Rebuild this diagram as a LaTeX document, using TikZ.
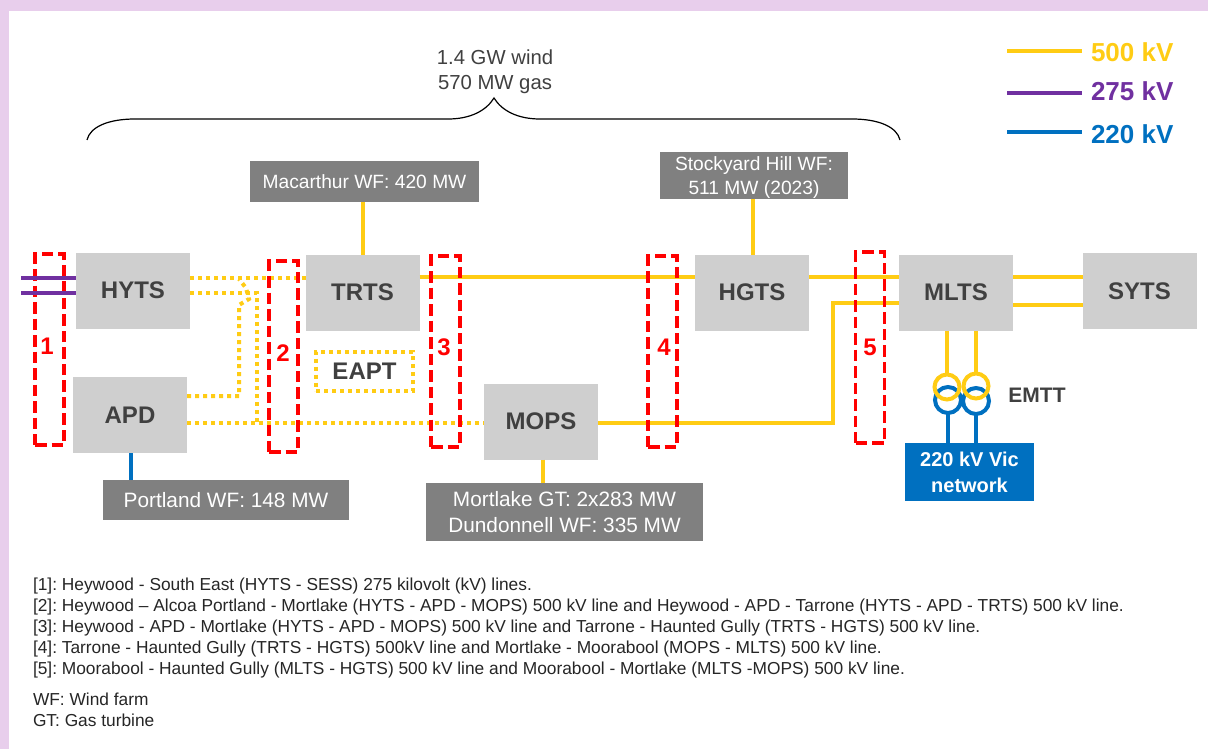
\documentclass[tikz,border=0pt]{standalone}
\usepackage{xcolor}
\usepackage{fontspec}
\setmainfont{Liberation Sans}
\usetikzlibrary{arrows.meta,positioning,calc}
\definecolor{kvfive}{HTML}{FFCC14}
\definecolor{kvtwo}{HTML}{7030A0}
\definecolor{kvone}{HTML}{0070C0}
\definecolor{boxgrey}{HTML}{CFCFCF}
\definecolor{labelgrey}{HTML}{808080}
\definecolor{inkgrey}{HTML}{404040}
\definecolor{edgelilac}{HTML}{E8CEEC}
\definecolor{cutred}{HTML}{FF0000}

\begin{document}
\begin{tikzpicture}[x=1pt,y=-1pt,
  every node/.style={inner sep=0pt,outer sep=0pt,text=inkgrey},
  station/.style={fill=boxgrey,minimum width=114pt,minimum height=76pt,font=\fontsize{24}{26}\selectfont\bfseries},
  plant/.style={fill=labelgrey,text=white,align=center,font=\fontsize{20.8}{26}\selectfont},
  cutset/.style={draw=cutred,line width=3.8pt,dash pattern=on 11.5pt off 5pt,minimum width=29pt,minimum height=191pt},
  cutnum/.style={text=cutred,font=\fontsize{24}{26}\selectfont\bfseries},
  line500/.style={draw=kvfive,line width=4pt},
  dots500/.style={draw=kvfive,line width=4pt,dash pattern=on 4pt off 4pt},
  line275/.style={draw=kvtwo,line width=4pt},
  line220/.style={draw=kvone,line width=4pt},
  legendtext/.style={anchor=west,font=\fontsize{26}{28}\selectfont\bfseries},
  notes/.style={anchor=north west,align=left,text=black!85,font=\fontsize{17.33}{21}\selectfont\frenchspacing}]
\useasboundingbox (0,0) rectangle (1208,749);
\fill[edgelilac] (0,0) rectangle (1208,749);
\fill[white] (9,11) rectangle (1208,749);

% stations
\node[station] (hyts) at (133,290.5) {HYTS};
\node[station] (apd) at (130,415) {APD};
\node[station] (trts) at (362.5,292.5) {TRTS};
\node[station] (hgts) at (752,292.5) {HGTS};
\node[station] (mlts) at (956,292.5) {MLTS};
\node[station] (syts) at (1139.5,291) {SYTS};
\node[station] (mops) at (541,421.5) {MOPS};
\node[dots500,minimum width=97pt,minimum height=39pt,font=\fontsize{24}{26}\selectfont\bfseries] (eapt) at (364.5,371) {EAPT};

% generation
\node[plant,minimum width=229pt,minimum height=41pt,font=\fontsize{19.2}{24}\selectfont] (macarthur) at (364.5,181.5) {Macarthur WF: 420 MW};
\node[plant,minimum width=188pt,minimum height=47pt,font=\fontsize{19.2}{24}\selectfont] (stockyard) at (754,175.5) {\rule{0pt}{17pt}Stockyard Hill WF:\\511 MW (2023)};
\node[plant,minimum width=246pt,minimum height=40pt] (portland) at (226,500) {Portland WF: 148 MW};
\node[plant,minimum width=277pt,minimum height=58pt] (mortlake) at (564.5,512) {Mortlake GT: 2x283 MW\\Dundonnell WF: 335 MW};
\node[fill=kvone,text=white,align=center,minimum width=129pt,minimum height=58pt,font=\fontsize{20}{26}\selectfont\bfseries] (vic) at (969.5,472) {220 kV Vic\\network};

% rows the lines run along
\coordinate (rowa) at (0,277);
\coordinate (rowb) at (0,293);
\coordinate (rowc) at (0,303);
\coordinate (rowf) at (0,305);
\coordinate (rowd) at (0,396);
\coordinate (rowe) at (0,423);
\coordinate (cola) at (239,0);
\coordinate (colb) at (257,0);
\coordinate (colc) at (833,0);
\coordinate (cold) at (947,0);
\coordinate (cole) at (976,0);
\coordinate (colf) at (131,0);
\coordinate (colg) at (543,0);
\coordinate (colh) at (363,0);
\coordinate (coli) at (753,0);
\coordinate (westa) at (21,278);
\coordinate (westb) at (21,293);

% transformers
\node[circle,draw=kvone,line width=4pt,minimum size=26pt] (tbluea) at (948,400) {};
\node[circle,draw=kvone,line width=4pt,minimum size=26pt] (tblueb) at (976,401) {};
\node[circle,draw=kvfive,line width=4pt,minimum size=25pt] (tyella) at (947,387) {};
\node[circle,draw=kvfive,line width=4pt,minimum size=25pt] (tyellb) at (976,386) {};
\node[font=\fontsize{21}{24}\selectfont\bfseries] (emtt) at (1037,395) {EMTT};

% 500 kV lines
\draw[dots500] (hyts.east |- westa) -- (trts.west |- westa);
\draw[dots500] (hyts.east |- rowb) -- (colb |- rowb) -- (colb |- rowe);
\draw[dots500] (apd.east |- rowd) -- (cola |- rowd) -- (239,305) -- (249,299) -- (246,288) -- (239,279);
\draw[dots500] (apd.east |- rowe) -- (mops.west |- rowe);
\draw[line500] (trts.east |- rowa) -- (hgts.west |- rowa);
\draw[line500] (hgts.east |- rowa) -- (mlts.west |- rowa);
\draw[line500] (mops.east |- rowe) -- (colc |- rowe) -- (colc |- rowc) -- (mlts.west |- rowc);
\draw[line500] (mlts.east |- rowa) -- (syts.west |- rowa);
\draw[line500] (mlts.east |- rowf) -- (syts.west |- rowf);
\draw[line500] (macarthur.south -| colh) -- (trts.north -| colh);
\draw[line500] (stockyard.south -| coli) -- (hgts.north -| coli);
\draw[line500] (mops.south -| colg) -- (mortlake.north -| colg);
\draw[line500] (mlts.south -| cold) -- (tyella.north);
\draw[line500] (mlts.south -| cole) -- (tyellb.north);

% 220 kV lines
\draw[line220] (tbluea.south) -- (vic.north -| tbluea.south);
\draw[line220] (tblueb.south) -- (vic.north -| tblueb.south);
\draw[line220] (apd.south -| colf) -- (portland.north -| colf);

% cut sets
\node[cutset] (cuta) at (49.5,349.5) {};
\node[cutset] (cutb) at (283.5,356.5) {};
\node[cutset] (cutc) at (445.5,351.5) {};
\node[cutset] (cutd) at (662.5,351.5) {};
\node[cutset] (cute) at (870,347.5) {};
\node[cutnum] (numa) at (47,346) {1};
\node[cutnum] (numb) at (283,353) {2};
\node[cutnum] (numc) at (444,347) {3};
\node[cutnum] (numd) at (664,347) {4};
\node[cutnum] (nume) at (870,347) {5};

% 275 kV lines
\draw[line275] (westa) -- (hyts.west |- westa);
\draw[line275] (westb) -- (hyts.west |- westb);

% brace
\coordinate (bracel) at (87,140);
\coordinate (bracer) at (900,140);
\coordinate (bracem) at (494,98);
\draw[black,line width=1.2pt] (bracel) .. controls (90,127) and (108,119) .. (135,119) -- (448,119) .. controls (470,119) and (486,111) .. (bracem) .. controls (502,111) and (518,119) .. (540,119) -- (852,119) .. controls (879,119) and (897,127) .. (bracer);
\node[align=center,font=\fontsize{20.3}{25}\selectfont] (total) at (495,71.5) {1.4 GW wind\\570 MW gas};

% legend
\coordinate (keya) at (1007,51);
\coordinate (keyb) at (1007,93);
\coordinate (keyc) at (1007,132);
\coordinate (keyd) at (1082,0);
\node[legendtext,text=kvfive] (key500) at (1091,52) {500 kV};
\node[legendtext,text=kvtwo] (key275) at (1091,91) {275 kV};
\node[legendtext,text=kvone] (key220) at (1091,134) {220 kV};
\draw[line500] (keya) -- (keyd |- keya);
\draw[line275] (keyb) -- (keyd |- keyb);
\draw[line220] (keyc) -- (keyd |- keyc);

% notes
\node[notes] (cutnotes) at (33,577.5) {{[1]}: Heywood - South East (HYTS - SESS) 275 kilovolt (kV) lines.\\
{[2]}: Heywood – Alcoa Portland - Mortlake (HYTS - APD - MOPS) 500 kV line and Heywood - APD - Tarrone (HYTS - APD - TRTS) 500 kV line.\\
{[3]}: Heywood - APD - Mortlake (HYTS - APD - MOPS) 500 kV line and Tarrone - Haunted Gully (TRTS - HGTS) 500 kV line.\\
{[4]}: Tarrone - Haunted Gully (TRTS - HGTS) 500kV line and Mortlake - Moorabool (MOPS - MLTS) 500 kV line.\\
{[5]}: Moorabool - Haunted Gully (MLTS - HGTS) 500 kV line and Moorabool - Mortlake (MLTS -MOPS) 500 kV line.};
\node[notes] (abbrev) at (33,692.5) {WF: Wind farm\\GT: Gas turbine};
\end{tikzpicture}
\end{document}
